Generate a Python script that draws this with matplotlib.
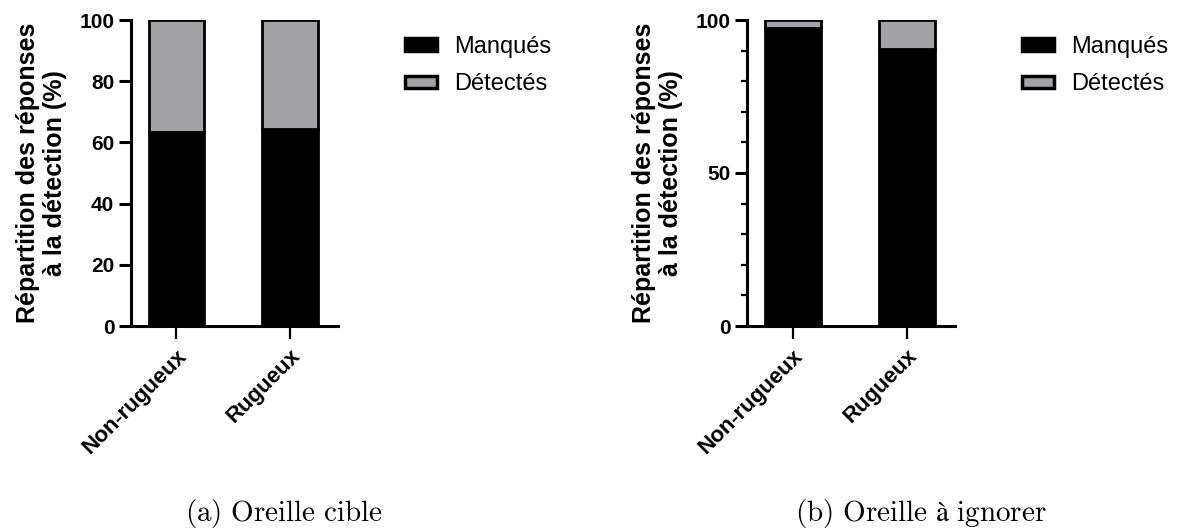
import matplotlib
matplotlib.use("Agg")
import matplotlib.pyplot as plt
from matplotlib.ticker import MultipleLocator

plt.rcParams["font.family"] = ["Liberation Sans", "DejaVu Sans"]
plt.rcParams["mathtext.fontset"] = "cm"

categories = ["Non-rugueux", "Rugueux"]
# (a) Oreille cible
cible_manques = [63.5, 64.5]
cible_detectes = [36.5, 35.5]
# (b) Oreille à ignorer
ignorer_manques = [97.5, 90.4]
ignorer_detectes = [2.5, 9.6]

labels = ["Manqués", "Détectés"]
captions = [r"$\mathrm{(a)\ Oreille\ cible}$",
            r"$\mathrm{(b)\ Oreille\ à\ ignorer}$"]
black = "#000000"
grey = "#a3a3a7"

W, H = 1185, 531
fig = plt.figure(figsize=(W / 100, H / 100), dpi=100)
ax_a = fig.add_axes([131 / W, 1 - 326 / H, 207 / W, 306 / H])
ax_b = fig.add_axes([747 / W, 1 - 326 / H, 208 / W, 306 / H])


def draw(ax, manques, detectes, major, minor, leg_x):
    x = range(len(categories))
    ax.bar(x, manques, width=0.49, color=black, edgecolor=black, linewidth=2,
           label=labels[0])
    ax.bar(x, detectes, width=0.49, bottom=manques, color=grey, edgecolor=black,
           linewidth=2, label=labels[1])
    ax.set_xlim(-0.40, 1.42)
    ax.set_ylim(0, 100)
    ax.set_xticks(list(x))
    ax.set_xticklabels(categories, rotation=45, ha="right", va="top",
                       rotation_mode="anchor", fontsize=16, fontweight="bold")
    ax.yaxis.set_major_locator(MultipleLocator(major))
    if minor:
        ax.yaxis.set_minor_locator(MultipleLocator(minor))
    for lab in ax.get_yticklabels():
        lab.set_fontsize(15)
        lab.set_fontweight("bold")
    ax.tick_params(axis="y", which="major", length=9, width=2.2, pad=3)
    ax.tick_params(axis="y", which="minor", length=4, width=1.6)
    ax.tick_params(axis="x", length=9, width=1.6, pad=5)
    for s in ["top", "right"]:
        ax.spines[s].set_visible(False)
    for s in ["left", "bottom"]:
        ax.spines[s].set_linewidth(2.2)
    ax.set_ylabel("Répartition des réponses\nà la détection (%)", fontsize=18,
                  fontweight="bold", linespacing=1.15)
    ax.yaxis.set_label_coords(-0.31, 0.5)
    leg = ax.legend(loc="upper left", bbox_to_anchor=(leg_x, 1 - 36 / H),
                    bbox_transform=fig.transFigure, frameon=False, fontsize=17,
                    handlelength=1.35, handleheight=0.45, handletextpad=0.75,
                    labelspacing=0.65, borderaxespad=0, borderpad=0)
    for p in leg.get_patches():
        p.set_linewidth(2.5)


draw(ax_a, cible_manques, cible_detectes, 20, None, 405 / W)
draw(ax_b, ignorer_manques, ignorer_detectes, 50, 10, 1022 / W)

for cx, txt in zip([284 / W, 921 / W], captions):
    fig.text(cx, 1 - 514 / H, txt, ha="center", va="center", fontsize=21)

fig.savefig("out.png", dpi=100)
